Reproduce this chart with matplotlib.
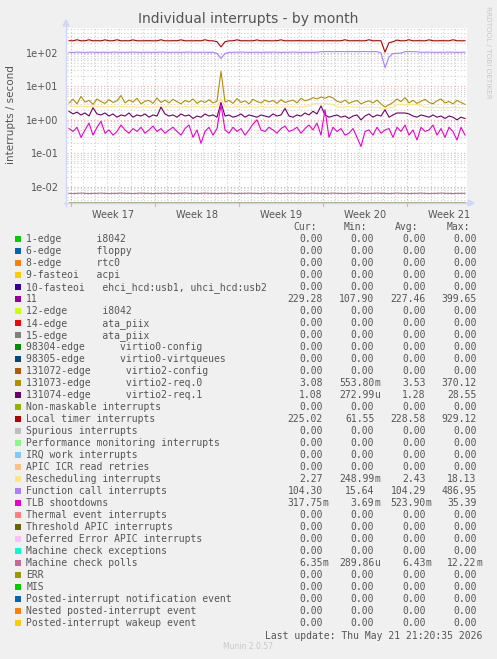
import numpy as np
import matplotlib
matplotlib.use("Agg")
import matplotlib.pyplot as plt
from matplotlib.patches import Rectangle

W, H = 497, 659

# ---------------- data ----------------
title = "Individual interrupts - by month"
ylabel = "interrupts / second"
week_labels = ["Week 17", "Week 18", "Week 19", "Week 20", "Week 21"]
span_days = 33.333
week_start = 0.36  # day offset of first week boundary

timer = [230,228,245,228,229,245,228,230,228,244,
         228,229,245,228,230,228,243,229,228,229,
         230,228,229,245,228,228,230,229,244,228,
         229,228,230,228,245,229,228,215,150,215,
         228,229,244,228,230,228,229,243,228,230,
         229,228,230,244,228,229,228,230,229,228,
         229,230,228,229,228,230,229,228,230,245,
         228,229,230,228,229,245,228,230,229,105,
         200,215,240,228,229,245,228,230,229,228,
         244,229,228,230,229,228,245,229,228,229]

fcall = [104,103,105,104,103,104,105,103,104,104,
         103,105,104,104,103,104,105,104,103,104,
         104,103,104,105,104,103,104,104,103,104,
         105,104,103,104,104,103,104,95,68,95,
         103,104,104,105,104,103,104,104,103,104,
         104,105,104,103,104,104,105,104,103,104,
         104,103,104,108,109,109,108,109,109,108,
         109,109,108,109,109,108,109,108,100,36,
         75,95,97,98,108,109,108,107,104,104,
         105,104,103,104,104,105,104,103,104,104]

gold = [3.2,4.1,3.0,5.0,3.4,3.8,2.9,4.2,3.5,3.1,
        4.0,3.3,3.7,5.3,3.2,3.9,3.4,4.4,3.0,3.6,
        3.8,3.1,4.5,3.3,3.9,3.2,4.1,3.5,3.0,3.8,
        3.4,4.2,3.1,3.7,3.3,4.0,3.2,3.6,28.0,3.4,
        3.8,3.1,4.3,3.3,3.7,3.0,4.1,3.5,3.2,3.9,
        3.4,3.8,3.1,4.0,3.3,3.6,3.9,3.2,4.4,3.7,
        4.0,4.6,4.2,4.8,4.4,5.0,4.5,3.6,3.3,3.9,
        3.1,3.5,3.8,3.0,3.4,3.7,3.2,3.9,3.0,2.4,
        2.8,3.3,4.2,3.5,4.6,3.2,3.8,3.1,3.6,4.1,
        3.3,3.0,3.7,4.2,3.2,3.5,3.0,3.8,3.3,2.9]

resched = [2.6,2.6,2.5,2.6,2.5,2.5,2.6,2.5,2.5,2.4,
           2.5,2.5,2.4,2.5,2.5,2.4,2.5,2.4,2.4,2.5,
           2.4,2.4,2.5,2.4,2.4,2.5,2.4,2.4,2.4,2.5,
           2.4,2.4,2.5,2.4,2.4,2.4,2.5,2.4,4.5,2.5,
           2.4,2.4,2.5,2.4,2.4,2.5,2.4,2.4,2.5,2.4,
           2.4,2.4,2.5,2.4,2.4,2.4,2.5,2.4,2.4,2.5,
           2.6,3.0,3.1,3.0,3.1,3.0,2.9,2.5,2.4,2.4,
           2.5,2.4,2.4,2.3,2.4,2.4,2.3,2.4,2.3,2.0,
           2.3,2.4,2.8,2.9,2.9,2.8,2.9,2.9,2.8,2.4,
           2.3,2.3,2.4,2.3,2.3,2.3,2.4,2.3,2.3,2.3]

purp = [1.8,1.5,1.7,1.4,1.6,1.3,2.3,1.5,1.4,1.6,
        1.3,1.5,1.2,1.4,1.3,1.6,1.2,1.4,1.3,1.5,
        1.2,1.4,1.3,2.4,1.5,1.3,1.4,1.2,1.5,1.3,
        1.4,1.1,1.3,1.2,1.5,1.3,1.4,1.2,3.3,1.3,
        1.4,1.2,1.3,1.5,1.2,1.4,1.3,1.2,1.4,1.3,
        1.2,1.5,1.3,1.4,2.2,1.3,1.2,1.4,1.3,1.6,
        1.4,1.8,1.5,2.6,1.4,1.2,1.3,1.4,1.2,1.3,
        1.1,1.3,1.4,1.0,1.3,1.5,1.2,1.4,1.3,2.0,
        1.2,1.4,1.6,1.6,1.6,1.5,1.3,1.2,1.4,1.3,
        1.2,1.4,1.2,1.3,1.1,1.3,1.2,1.0,1.2,1.1]

tlb = [0.55,0.45,0.6,0.3,0.5,0.8,0.35,0.6,0.9,0.4,
       0.5,0.35,0.45,0.7,0.5,0.4,0.55,0.45,0.6,0.4,
       0.5,0.65,0.45,0.55,0.4,0.5,0.6,0.45,0.35,0.55,
       0.7,0.3,0.5,0.2,0.45,0.6,0.35,0.55,2.8,0.5,
       0.4,0.6,0.45,0.55,0.35,0.5,0.75,1.0,0.5,0.45,
       0.6,0.5,0.4,0.55,0.65,0.45,0.5,0.6,0.4,0.55,
       0.7,0.5,0.8,0.35,2.0,0.3,0.6,0.45,0.55,0.35,
       0.4,0.55,0.3,0.16,0.45,0.5,0.35,0.6,0.4,0.5,
       0.55,0.3,0.6,0.45,0.7,0.35,0.5,0.25,0.6,0.45,
       0.5,0.7,0.35,0.55,0.3,0.6,0.45,0.25,0.6,0.35]

mcpoll = [0.0064,0.0063,0.0064,0.0065,0.0064,0.0063,0.0064,0.0064,0.0065,0.0064,
          0.0063,0.0064,0.0064,0.0065,0.0064,0.0064,0.0063,0.0064,0.0065,0.0064,
          0.0064,0.0063,0.0064,0.0064,0.0065,0.0064,0.0063,0.0064,0.0064,0.0065,
          0.0064,0.0064,0.0063,0.0064,0.0065,0.0064,0.0064,0.0063,0.0064,0.0064,
          0.0065,0.0064,0.0063,0.0064,0.0064,0.0065,0.0064,0.0064,0.0063,0.0064,
          0.0065,0.0064,0.0064,0.0063,0.0064,0.0064,0.0065,0.0064,0.0063,0.0064,
          0.0064,0.0065,0.0064,0.0064,0.0063,0.0064,0.0065,0.0064,0.0064,0.0063,
          0.0064,0.0064,0.0065,0.0064,0.0063,0.0064,0.0064,0.0065,0.0064,0.0064,
          0.0063,0.0064,0.0065,0.0064,0.0064,0.0063,0.0064,0.0064,0.0065,0.0064,
          0.0063,0.0064,0.0064,0.0065,0.0064,0.0064,0.0063,0.0064,0.0064,0.0064]

labels = ["1-edge      i8042", "6-edge      floppy", "8-edge      rtc0",
          "9-fasteoi   acpi", "10-fasteoi   ehci_hcd:usb1, uhci_hcd:usb2", "11",
          "12-edge      i8042", "14-edge      ata_piix", "15-edge      ata_piix",
          "98304-edge      virtio0-config", "98305-edge      virtio0-virtqueues",
          "131072-edge      virtio2-config", "131073-edge      virtio2-req.0",
          "131074-edge      virtio2-req.1", "Non-maskable interrupts",
          "Local timer interrupts", "Spurious interrupts",
          "Performance monitoring interrupts", "IRQ work interrupts",
          "APIC ICR read retries", "Rescheduling interrupts",
          "Function call interrupts", "TLB shootdowns", "Thermal event interrupts",
          "Threshold APIC interrupts", "Deferred Error APIC interrupts",
          "Machine check exceptions", "Machine check polls", "ERR", "MIS",
          "Posted-interrupt notification event", "Nested posted-interrupt event",
          "Posted-interrupt wakeup event"]
colors = ["#00CC00", "#0066B3", "#FF8000", "#FFCC00", "#330099", "#990099",
          "#CCFF00", "#FF0000", "#808080", "#008F00", "#00487D", "#B35A00",
          "#B38F00", "#6B006B", "#8FB300", "#B30000", "#BEBEBE", "#80FF80",
          "#80C9FF", "#FFC080", "#FFE680", "#AA80FF", "#EE00CC", "#FF8080",
          "#666600", "#FFBFFF", "#00FFCC", "#CC6699", "#999900", "#00CC00",
          "#0066B3", "#FF8000", "#FFCC00"]
z = "0.00 "
cur = [z]*5 + ["229.28 "] + [z]*6 + ["3.08 ", "1.08 ", z, "225.02 "] + [z]*4 + \
      ["2.27 ", "104.30 ", "317.75m", z, z, z, z, "6.35m"] + [z]*5
mins = [z]*5 + ["107.90 "] + [z]*6 + ["553.80m", "272.99u", z, "61.55 "] + [z]*4 + \
       ["248.99m", "15.64 ", "3.69m", z, z, z, z, "289.86u"] + [z]*5
avgs = [z]*5 + ["227.46 "] + [z]*6 + ["3.53 ", "1.28 ", z, "228.58 "] + [z]*4 + \
       ["2.43 ", "104.29 ", "523.90m", z, z, z, z, "6.43m"] + [z]*5
maxs = [z]*5 + ["399.65 "] + [z]*6 + ["370.12 ", "28.55 ", z, "929.12 "] + [z]*4 + \
       ["18.13 ", "486.95 ", "35.39 ", z, z, z, z, "12.22m"] + [z]*5

# series drawn in the graph: (label index, values)
plotted = {12: gold, 13: purp, 15: timer, 20: resched, 21: fcall, 22: tlb, 27: mcpoll}

# ---------------- figure ----------------
BG = "#F0F0F0"
FONT = "#555555"
fig = plt.figure(figsize=(W / 100, H / 100), dpi=100, facecolor=BG)

L, T, PW, PH = 67, 28, 400, 175
ax = fig.add_axes([L / W, 1 - (T + PH) / H, PW / W, PH / H])
ax.set_facecolor("white")
ylo, yhi = 3.3e-3, 5.5e2
ax.set_yscale("log")
ax.set_xlim(0, span_days)
ax.set_ylim(ylo, yhi)

# grid
for d in np.arange(week_start, span_days, 1.0):
    major = abs(((d - week_start) / 7) - round((d - week_start) / 7)) < 1e-6
    ax.axvline(d, color="#F0A8A8" if major else "#D0D0D0", lw=0.8,
               ls=(0, (1, 2)), zorder=0)
for e in range(-3, 3):
    for m in range(1, 10):
        v = m * 10.0 ** e
        if ylo < v < yhi:
            ax.axhline(v, color="#F0A8A8" if m == 1 else "#D0D0D0", lw=0.8,
                       ls=(0, (1, 2)), zorder=0)

n = len(gold)
t = (np.arange(n) + 0.5) * span_days / n

# zero-valued series sit on the floor of the log axis
for i, c in enumerate(colors):
    if i in plotted:
        continue
    ax.plot(t, np.full(n, ylo), color=c, lw=0.8, zorder=1, clip_on=True)
for i in [27, 20, 12, 13, 22, 21, 15]:
    ax.plot(t, plotted[i], color=colors[i], lw=0.8, zorder=2)

for s in ax.spines.values():
    s.set_visible(False)
ax.tick_params(axis="both", which="both", length=0)
ax.yaxis.set_minor_formatter(matplotlib.ticker.NullFormatter())
ax.set_yticks([1e-2, 1e-1, 1e0, 1e1, 1e2])
ax.set_yticklabels(["1e-02", "1e-01", "1e+00", "1e+01", "1e+02"],
                   fontsize=7, color=FONT)
ax.tick_params(axis="y", pad=6)
ax.set_xticks([week_start + 3.5 + 7 * k for k in range(len(week_labels))])
ax.set_xticklabels(week_labels, fontsize=7, color=FONT)
ax.tick_params(axis="x", pad=5)

# axes lines with arrows
AX = "#CFD6F8"
def fx(x):
    return x / W
def fy(y):
    return 1 - y / H
fig.add_artist(plt.Line2D([fx(L - 1), fx(L - 1)], [fy(T + PH + 3), fy(T - 2)],
                          color=AX, lw=1))
fig.add_artist(plt.Line2D([fx(L - 3), fx(L + PW + 2)], [fy(T + PH), fy(T + PH)],
                          color=AX, lw=1))
fig.patches.append(plt.Polygon([[fx(L - 4), fy(T - 2)], [fx(L + 2), fy(T - 2)],
                                [fx(L - 1), fy(T - 8)]], closed=True,
                               color=AX, transform=fig.transFigure))
fig.patches.append(plt.Polygon([[fx(L + PW + 1), fy(T + PH - 3)],
                                [fx(L + PW + 1), fy(T + PH + 3)],
                                [fx(L + PW + 7), fy(T + PH)]], closed=True,
                               color=AX, transform=fig.transFigure))
# week boundary ticks below axis
for k in range(5):
    d = week_start + 7 * k
    xp = L + d / span_days * PW
    fig.add_artist(plt.Line2D([fx(xp), fx(xp)], [fy(T + PH), fy(T + PH + 3)],
                              color="#F0A8A8", lw=0.8))

fig.text(fx(248.5), fy(19), title, ha="center", va="center", fontsize=10,
         color=FONT)
fig.text(fx(11), fy(115), ylabel, ha="center", va="center", rotation=90,
         fontsize=7.5, color=FONT)
fig.text(fx(488), fy(52), "RRDTOOL / TOBI OETIKER", ha="center", va="center",
         rotation=270, fontsize=5.2, color="#C8C8C8")

# legend
mono = "DejaVu Sans Mono"
col_end = [322.7, 374.3, 425.7, 476.7]
hdr_end = [316.5, 367.3, 418.5, 470.0]
for h, xe in zip(["Cur:", "Min:", "Avg:", "Max:"], hdr_end):
    fig.text(fx(xe), fy(227.3), h, ha="right", va="center", family=mono,
             fontsize=7, color=FONT)
for i, lab in enumerate(labels):
    y = 239.3 + 12 * i
    fig.patches.append(Rectangle((fx(15), fy(y + 3)), 6 / W, 6 / H,
                                 transform=fig.transFigure,
                                 facecolor=colors[i], edgecolor="none"))
    fig.text(fx(26.3), fy(y), lab, ha="left", va="center", family=mono,
             fontsize=7, color=FONT)
    for vals, xe in zip([cur, mins, avgs, maxs], col_end):
        s = vals[i]
        fig.text(fx(xe), fy(y), s[:-1], ha="right", va="center", family=mono,
                 fontsize=7, color=FONT)
        if s[-1] != " ":
            fig.text(fx(xe), fy(y), s[-1], ha="left", va="center", family=mono,
                     fontsize=7, color=FONT)

fig.text(fx(482.7), fy(635.7), "Last update: Thu May 21 21:20:35 2026",
         ha="right", va="center", family=mono, fontsize=7, color=FONT)
fig.text(fx(248), fy(646.5), "Munin 2.0.57", ha="center", va="center",
         fontsize=5.5, color="#C8C8C8")

fig.savefig("out.png", dpi=100, facecolor=BG)
